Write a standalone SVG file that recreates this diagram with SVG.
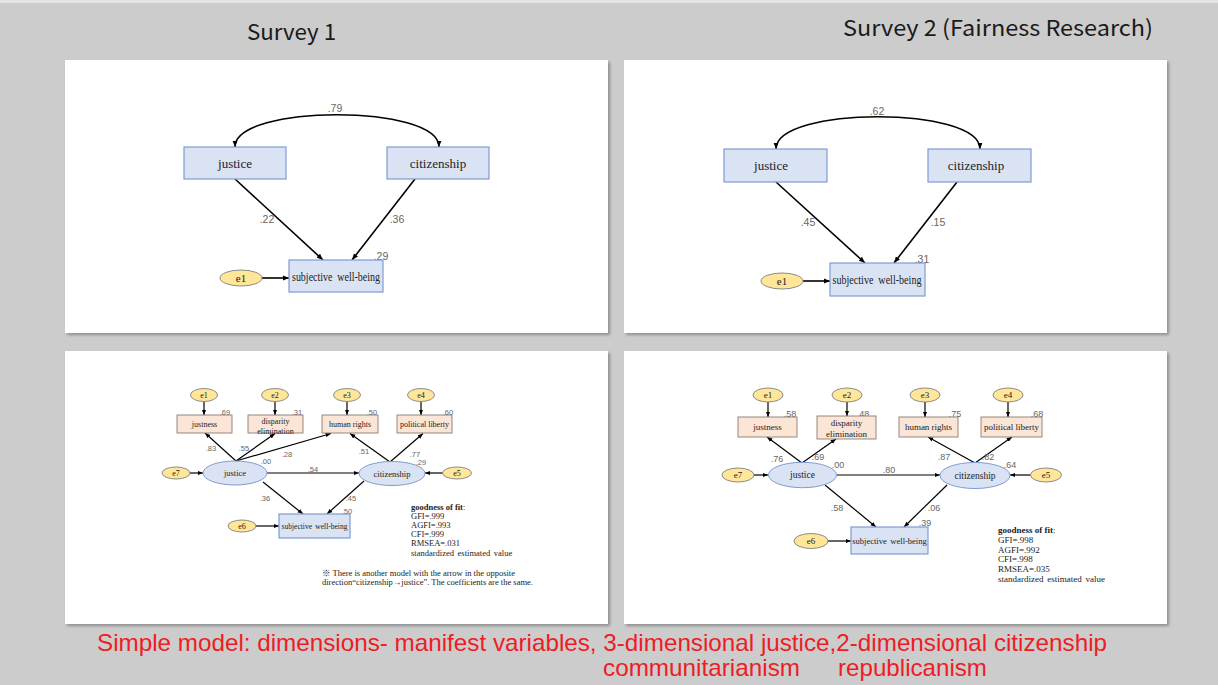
<svg xmlns="http://www.w3.org/2000/svg" width="1218" height="685" viewBox="0 0 1218 685">
<style>
.panel{fill:#ffffff;filter:url(#sh)}
.box{fill:#dae3f3;stroke:#7f9bd0;stroke-width:1.2}
.obs{fill:#fbe5d6;stroke:#8c7b70;stroke-width:0.9}
.err{fill:#ffe699;stroke:#7f7f7f;stroke-width:0.9}
.lat{fill:#dae3f3;stroke:#7f9bd0;stroke-width:1}
.ln{fill:none;stroke:#000;stroke-width:1.6;marker-end:url(#ah)}
.ln2{fill:none;stroke:#000;stroke-width:1.2;marker-end:url(#ah2)}
.curve{fill:none;stroke:#000;stroke-width:1.6;marker-start:url(#ah);marker-end:url(#ah)}
.t{font-family:"Liberation Serif",serif;fill:#222;text-anchor:middle;dominant-baseline:central}
.n{font-family:"Liberation Sans",sans-serif;fill:#666;text-anchor:middle;dominant-baseline:central}
.g{font-family:"Liberation Serif","Noto Sans CJK JP",serif;fill:#222;dominant-baseline:central}
.title{font-family:"Noto Sans CJK JP","Noto Sans",sans-serif;fill:#1a1a1a;font-size:22px}
.red{font-family:"Liberation Sans",sans-serif;fill:#ee1c25;font-size:24px}
</style>
<defs>
<filter id="sh" x="-5%" y="-5%" width="110%" height="110%">
<feDropShadow dx="2" dy="2" stdDeviation="1.5" flood-color="#666" flood-opacity="0.6"/>
</filter>
<marker id="ah" viewBox="0 0 10 10" refX="10" refY="5" markerWidth="4" markerHeight="4" orient="auto-start-reverse" markerUnits="strokeWidth">
<path d="M0,1 L10,5 L0,9 z" fill="#000"/>
</marker>
<marker id="ah2" viewBox="0 0 10 10" refX="10" refY="5" markerWidth="4.5" markerHeight="4.5" orient="auto-start-reverse" markerUnits="strokeWidth">
<path d="M0,1 L10,5 L0,9 z" fill="#000"/>
</marker>
</defs>
<rect x="0" y="0" width="1218" height="685" fill="#cccccc"/>
<rect x="0" y="0" width="1218" height="3" fill="#e4e4e4"/>
<text class="title" x="247" y="40" textLength="89" lengthAdjust="spacingAndGlyphs">Survey 1</text>
<text class="title" x="843" y="36" textLength="310" lengthAdjust="spacingAndGlyphs">Survey 2 (Fairness Research)</text>

<rect class="panel" x="65" y="60" width="543" height="273"/>
<rect class="panel" x="624" y="60" width="543" height="273"/>
<rect class="panel" x="65" y="351" width="543" height="273"/>
<rect class="panel" x="624" y="351" width="543" height="273"/>

<!-- Top-left -->
<g id="tl-connectors">
<path class="curve" d="M235,147 C235,104 439,104 439,147"/>
<path class="ln" d="M235,179 L323,260"/>
<path class="ln" d="M415,179 L352,260"/>
<path class="ln" d="M262,278 L289,278"/>
<text class="n" font-size="10.5" x="335" y="108">.79</text>
<text class="n" font-size="10.5" x="267" y="219">.22</text>
<text class="n" font-size="10.5" x="397" y="219">.36</text>
<text class="n" font-size="10.5" x="381" y="256">.29</text>
</g>
<g id="tl-justice"><rect class="box" x="184" y="147" width="102" height="32"/><text class="t" font-size="13" x="235" y="163">justice</text></g>
<g id="tl-citizenship"><rect class="box" x="387" y="147" width="102" height="32"/><text class="t" font-size="13" x="438" y="163">citizenship</text></g>
<g id="tl-swb"><rect class="box" x="289" y="260" width="94" height="32"/><text class="t" font-size="12.5" x="336" y="277" textLength="88" lengthAdjust="spacingAndGlyphs" word-spacing="3">subjective well-being</text></g>
<g id="tl-e1"><ellipse class="err" cx="241" cy="278" rx="21" ry="8"/><text class="t" font-size="11" x="241" y="278">e1</text></g>

<!-- Top-right -->
<g id="tr-connectors">
<path class="curve" d="M776,149 C776,106 980,106 980,149"/>
<path class="ln" d="M776,182 L865,263"/>
<path class="ln" d="M957,182 L894,263"/>
<path class="ln" d="M803,281 L830,281"/>
<text class="n" font-size="10.5" x="877" y="111">.62</text>
<text class="n" font-size="10.5" x="808" y="222">.45</text>
<text class="n" font-size="10.5" x="938" y="222">.15</text>
<text class="n" font-size="10.5" x="922" y="259">.31</text>
</g>
<g id="tr-justice"><rect class="box" x="724" y="149" width="103" height="33"/><text class="t" font-size="13" x="771" y="165">justice</text></g>
<g id="tr-citizenship"><rect class="box" x="928" y="149" width="103" height="33"/><text class="t" font-size="13" x="976" y="165">citizenship</text></g>
<g id="tr-swb"><rect class="box" x="830" y="263" width="95" height="33"/><text class="t" font-size="12.5" x="877" y="280" textLength="89" lengthAdjust="spacingAndGlyphs" word-spacing="3">subjective well-being</text></g>
<g id="tr-e1"><ellipse class="err" cx="782" cy="281" rx="21" ry="8"/><text class="t" font-size="11" x="782" y="281">e1</text></g>

<!-- Bottom-left -->
<g id="bl-connectors">
<path class="ln2" d="M204,401.5 L204,415"/>
<path class="ln2" d="M275,401.5 L275,415"/>
<path class="ln2" d="M347,401.5 L347,415"/>
<path class="ln2" d="M421,401.5 L421,415"/>
<path class="ln2" d="M236,461 L205,433"/>
<path class="ln2" d="M236,461 L275,433.5"/>
<path class="ln2" d="M236,461 L331,433.5"/>
<path class="ln2" d="M390,462 L350,433.5"/>
<path class="ln2" d="M390,462 L423,433.5"/>
<path class="ln2" d="M267,473 L359,473"/>
<path class="ln2" d="M190,473 L203,473"/>
<path class="ln2" d="M443,473 L425,473"/>
<path class="ln2" d="M263,482 L303,514"/>
<path class="ln2" d="M364,481 L327,514"/>
<path class="ln2" d="M256,526 L279,526"/>
<g font-size="7.5">
<text class="n" x="225" y="412">.69</text>
<text class="n" x="297" y="412">.31</text>
<text class="n" x="372" y="412">.50</text>
<text class="n" x="448" y="412">.60</text>
<text class="n" x="211" y="448">.83</text>
<text class="n" x="244" y="448">.55</text>
<text class="n" x="287" y="454">.28</text>
<text class="n" x="364" y="451">.51</text>
<text class="n" x="415" y="454">.77</text>
<text class="n" x="266" y="461">.00</text>
<text class="n" x="313" y="469">.54</text>
<text class="n" x="421" y="462">.29</text>
<text class="n" x="265" y="498">.36</text>
<text class="n" x="351" y="498">.45</text>
<text class="n" x="347" y="511">.50</text>
</g>
</g>
<g id="bl-e1"><ellipse class="err" cx="204" cy="395" rx="13.5" ry="6.5"/><text class="t" font-size="8" x="204" y="395">e1</text></g>
<g id="bl-e2"><ellipse class="err" cx="275" cy="395" rx="13.5" ry="6.5"/><text class="t" font-size="8" x="275" y="395">e2</text></g>
<g id="bl-e3"><ellipse class="err" cx="347" cy="395" rx="13.5" ry="6.5"/><text class="t" font-size="8" x="347" y="395">e3</text></g>
<g id="bl-e4"><ellipse class="err" cx="421" cy="395" rx="13.5" ry="6.5"/><text class="t" font-size="8" x="421" y="395">e4</text></g>
<g id="bl-justness"><rect class="obs" x="177" y="415" width="55" height="18"/><text class="t" font-size="8" x="204.5" y="424">justness</text></g>
<g id="bl-disparity"><rect class="obs" x="248" y="415" width="55" height="18"/><text class="t" font-size="8" x="275.5" y="421">disparity</text><text class="t" font-size="8" x="275.5" y="431">elimination</text></g>
<g id="bl-human"><rect class="obs" x="322" y="415" width="56" height="18"/><text class="t" font-size="8" x="350" y="424">human rights</text></g>
<g id="bl-political"><rect class="obs" x="397" y="415" width="55" height="18"/><text class="t" font-size="8" x="424.5" y="424">political liberty</text></g>
<g id="bl-justice"><ellipse class="lat" cx="235" cy="473" rx="32" ry="12"/><text class="t" font-size="8.5" x="235" y="473">justice</text></g>
<g id="bl-citizenship"><ellipse class="lat" cx="392" cy="473.5" rx="33" ry="12"/><text class="t" font-size="8.5" x="392" y="473.5">citizenship</text></g>
<g id="bl-e7"><ellipse class="err" cx="176" cy="473" rx="14" ry="6"/><text class="t" font-size="8" x="176" y="473">e7</text></g>
<g id="bl-e5"><ellipse class="err" cx="457" cy="473" rx="14.5" ry="6"/><text class="t" font-size="8" x="457" y="473">e5</text></g>
<g id="bl-e6"><ellipse class="err" cx="242" cy="526" rx="14" ry="6"/><text class="t" font-size="8" x="242" y="526">e6</text></g>
<g id="bl-swb"><rect class="box" x="279" y="514" width="71" height="24"/><text class="t" font-size="7.5" x="314.5" y="526" word-spacing="1.5">subjective well-being</text></g>
<g id="bl-fit" font-size="8.5">
<text class="g" x="411" y="507" font-weight="bold">goodness of fit<tspan font-weight="normal">:</tspan></text>
<text class="g" x="411" y="515.5">GFI=.999</text>
<text class="g" x="411" y="524.5">AGFI=.993</text>
<text class="g" x="411" y="533.5">CFI=.999</text>
<text class="g" x="411" y="543">RMSEA=.031</text>
<text class="g" x="411" y="552.5" word-spacing="1.5">standardized estimated value</text>
</g>
<g id="bl-note" font-size="8.5">
<text class="g" x="322" y="573">※ There is another model with the arrow in the opposite</text>
<text class="g" x="322" y="582">direction“citizenship→justice”. The coefficients are the same.</text>
</g>

<!-- Bottom-right -->
<g id="br-connectors">
<path class="ln2" d="M768,402 L768,417"/>
<path class="ln2" d="M847,402 L847,416"/>
<path class="ln2" d="M925,402 L925,417"/>
<path class="ln2" d="M1008,402 L1008,417"/>
<path class="ln2" d="M802,463 L767,437"/>
<path class="ln2" d="M802,463 L836,439"/>
<path class="ln2" d="M975,463 L928,437"/>
<path class="ln2" d="M975,463 L1012,437"/>
<path class="ln2" d="M837,475 L940,475"/>
<path class="ln2" d="M754,475 L768,475"/>
<path class="ln2" d="M1030.5,475 L1010,475"/>
<path class="ln2" d="M825,485 L876,527"/>
<path class="ln2" d="M947,485 L904,527"/>
<path class="ln2" d="M828,541 L851,541"/>
<g font-size="9">
<text class="n" x="790" y="414">.58</text>
<text class="n" x="863" y="414">.48</text>
<text class="n" x="955" y="414">.75</text>
<text class="n" x="1037" y="414">.68</text>
<text class="n" x="777" y="459">.76</text>
<text class="n" x="818" y="457">.69</text>
<text class="n" x="944" y="457">.87</text>
<text class="n" x="988" y="457">.82</text>
<text class="n" x="838" y="465">.00</text>
<text class="n" x="889" y="470">.80</text>
<text class="n" x="1010" y="465">.64</text>
<text class="n" x="837" y="508">.58</text>
<text class="n" x="934" y="508">.06</text>
<text class="n" x="925" y="523">.39</text>
</g>
</g>
<g id="br-e1"><ellipse class="err" cx="768" cy="395" rx="15" ry="7"/><text class="t" font-size="9" x="768" y="395">e1</text></g>
<g id="br-e2"><ellipse class="err" cx="847" cy="395" rx="15" ry="7"/><text class="t" font-size="9" x="847" y="395">e2</text></g>
<g id="br-e3"><ellipse class="err" cx="925" cy="395" rx="15" ry="7"/><text class="t" font-size="9" x="925" y="395">e3</text></g>
<g id="br-e4"><ellipse class="err" cx="1008" cy="395" rx="15" ry="7"/><text class="t" font-size="9" x="1008" y="395">e4</text></g>
<g id="br-justness"><rect class="obs" x="738" y="417" width="59" height="20"/><text class="t" font-size="9" x="767.5" y="427">justness</text></g>
<g id="br-disparity"><rect class="obs" x="817" y="416" width="59" height="23"/><text class="t" font-size="9" x="846.5" y="422.5">disparity</text><text class="t" font-size="9" x="846.5" y="434">elimination</text></g>
<g id="br-human"><rect class="obs" x="899" y="417" width="59" height="20"/><text class="t" font-size="9" x="928.5" y="427">human rights</text></g>
<g id="br-political"><rect class="obs" x="981" y="417" width="61" height="20"/><text class="t" font-size="9" x="1011.5" y="427">political liberty</text></g>
<g id="br-justice"><ellipse class="lat" cx="802.5" cy="475" rx="34" ry="12.7"/><text class="t" font-size="9.5" x="802.5" y="475">justice</text></g>
<g id="br-citizenship"><ellipse class="lat" cx="975" cy="475.5" rx="35" ry="13"/><text class="t" font-size="9.5" x="975" y="475.5">citizenship</text></g>
<g id="br-e7"><ellipse class="err" cx="738" cy="475" rx="16" ry="7"/><text class="t" font-size="9" x="738" y="475">e7</text></g>
<g id="br-e5"><ellipse class="err" cx="1046" cy="475" rx="15.5" ry="7"/><text class="t" font-size="9" x="1046" y="475">e5</text></g>
<g id="br-e6"><ellipse class="err" cx="811" cy="541" rx="17" ry="7.5"/><text class="t" font-size="9" x="811" y="541">e6</text></g>
<g id="br-swb"><rect class="box" x="851" y="527" width="77" height="27"/><text class="t" font-size="8.5" x="889.5" y="540.5" word-spacing="1.5">subjective well-being</text></g>
<g id="br-fit" font-size="9">
<text class="g" x="998" y="530" font-weight="bold">goodness of fit<tspan font-weight="normal">:</tspan></text>
<text class="g" x="998" y="540">GFI=.998</text>
<text class="g" x="998" y="549.5">AGFI=.992</text>
<text class="g" x="998" y="559">CFI=.998</text>
<text class="g" x="998" y="568.5">RMSEA=.035</text>
<text class="g" x="998" y="578.5" word-spacing="1.5">standardized estimated value</text>
</g>

<text class="red" x="97" y="651" textLength="1010" lengthAdjust="spacingAndGlyphs">Simple model: dimensions- manifest variables, 3-dimensional justice,2-dimensional citizenship</text>
<text class="red" x="603" y="676" textLength="197" lengthAdjust="spacingAndGlyphs">communitarianism</text>
<text class="red" x="838" y="676" textLength="149" lengthAdjust="spacingAndGlyphs">republicanism</text>
</svg>
